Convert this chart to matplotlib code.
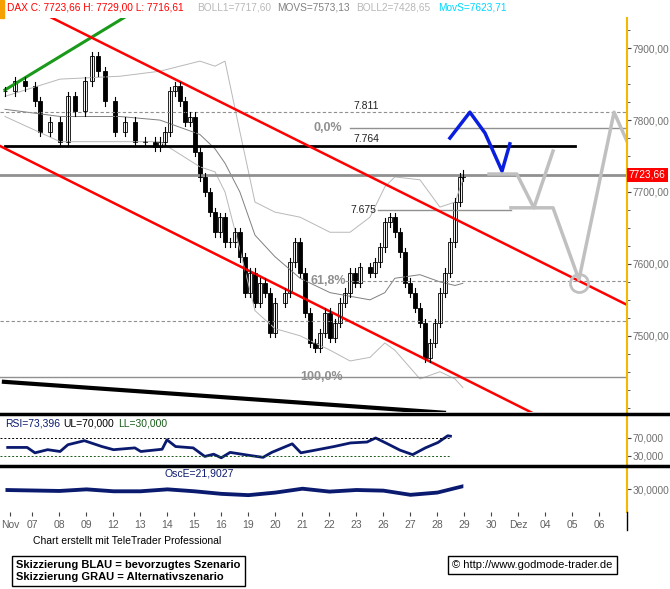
import numpy as np
import matplotlib
matplotlib.use('Agg')
import matplotlib.pyplot as plt
from matplotlib.patches import Rectangle

plt.rcParams['font.family'] = ['Liberation Sans', 'DejaVu Sans']

# ---- price path (day index, close) ----
days = [-1.0, -0.63, -0.26, 0.11, 0.30, 0.67, 1.04, 1.33, 1.59, 1.96, 2.22, 2.44, 2.70, 3.07, 3.44,
        3.81, 4.19, 4.56, 4.74, 4.93, 5.11, 5.30, 5.48, 5.67, 5.85, 6.04, 6.22, 6.41, 6.59, 6.78,
        6.96, 7.15, 7.33, 7.52, 7.70, 7.89, 8.07, 8.26, 8.44, 8.63, 8.81, 9.00, 9.37, 9.56, 9.74,
        9.93, 10.11, 10.30, 10.48, 10.67, 10.85, 11.04, 11.22, 11.41, 11.59, 11.78, 11.96, 12.15,
        12.52, 12.70, 12.89, 13.07, 13.26, 13.44, 13.63, 13.81, 14.00, 14.19, 14.37, 14.56, 14.74,
        14.93, 15.11, 15.30, 15.48, 15.67, 15.85, 15.96]
closes = [7840, 7854, 7847, 7826, 7784, 7798, 7770, 7833, 7812, 7854, 7889, 7868, 7826, 7784, 7798,
          7770, 7770, 7763, 7770, 7784, 7840, 7847, 7826, 7798, 7805, 7756, 7721, 7700, 7672, 7644,
          7665, 7630, 7630, 7644, 7609, 7560, 7588, 7546, 7574, 7560, 7504, 7546, 7560, 7602, 7630,
          7588, 7532, 7490, 7483, 7504, 7532, 7497, 7518, 7546, 7560, 7588, 7574, 7595, 7588, 7602,
          7623, 7658, 7665, 7644, 7616, 7574, 7560, 7539, 7518, 7469, 7490, 7518, 7560, 7588, 7630,
          7686, 7721, 7724]

band_days = [-1.0, 1.04, 3.26, 4.74, 6.22, 6.78, 7.15, 7.70, 8.26, 9.0, 9.93, 11.04, 11.78, 12.52,
             13.07, 13.44, 14.37, 15.11, 15.67, 15.96]
boll_upper = [7833, 7857, 7861, 7868, 7882, 7875, 7882, 7784, 7686, 7672, 7665, 7644, 7644, 7665,
              7707, 7721, 7717, 7679, 7686, 7717]
boll_lower = [7805, 7770, 7770, 7770, 7735, 7728, 7700, 7620, 7535, 7510, 7500, 7480, 7465, 7470,
              7490, 7480, 7440, 7450, 7440, 7428]
movs = [7815, 7805, 7805, 7800, 7780, 7760, 7740, 7700, 7640, 7610, 7580, 7560, 7555, 7550,
        7560, 7580, 7585, 7575, 7570, 7573]

rsi_days = [-0.9, -0.18, 0.11, 0.58, 1.04, 1.33, 1.94, 2.59, 3.02, 3.81, 4.03, 4.82, 5.0, 5.32,
            5.97, 6.4, 6.73, 7.01, 7.34, 8.09, 8.56, 8.88, 9.64, 9.96, 10.58, 11.19, 11.8, 12.41,
            12.73, 13.17, 13.63, 14.1, 14.57, 15.04, 15.4, 15.5]
rsi = [49, 49, 37, 44, 40, 55, 64, 51, 44, 48, 40, 45, 66, 51, 48, 29, 34, 26, 38, 31, 27, 38,
       57, 37, 44, 51, 59, 61, 70, 57, 43, 33, 48, 60, 75, 74]

osc_days = [-1.0, 1.0, 2.0, 3.0, 4.0, 5.0, 6.0, 7.0, 8.0, 9.0, 10.0, 11.0, 12.0, 13.0, 14.0, 15.0, 15.96]
osc = [30, 27, 32, 26, 26, 32, 26, 18, 14, 22, 34, 25, 30, 28, 15, 22, 42]

green_line = ([-1.0, 3.56], [7842, 7946])
red_upper = ([0.70, 22.04], [7943, 7543])
red_lower = ([-1.185, 18.52], [7764, 7393])
black_trend = ([-1.04, 15.26], [7436, 7393])
blue_path = ([15.48, 16.22, 16.78, 17.41, 17.70], [7775, 7811, 7782, 7729, 7767])
gray_path1 = ([16.93, 17.96, 18.59, 19.30], [7725, 7725, 7678, 7757])
gray_path2 = ([17.74, 19.30, 20.26, 21.56, 22.07], [7678, 7678, 7578, 7811, 7768])

date_pos = [-0.81] + list(range(22))
date_labels = ['Nov', '07', '08', '09', '12', '13', '14', '15', '16', '19', '20', '21', '22', '23',
               '26', '27', '28', '29', '30', 'Dez', '04', '05', '06']

XMIN, XMAX = -1.185, 22.04
W, H = 670, 589

fig = plt.figure(figsize=(6.7, 5.89), dpi=100)


def box(top, bottom):
    return [0, 1 - bottom / H, 627 / W, (bottom - top) / H]


ax = fig.add_axes(box(18, 412))
ax_rsi = fig.add_axes(box(415, 465))
ax_osc = fig.add_axes(box(467, 512))

for a in (ax, ax_rsi, ax_osc):
    a.set_xlim(XMIN, XMAX)
    for s in ('top', 'left', 'bottom'):
        a.spines[s].set_visible(False)
    a.spines['right'].set_color('#f5b800')
    a.spines['right'].set_linewidth(1.5)
    a.yaxis.tick_right()
    a.tick_params(axis='y', labelsize=7.3, labelcolor='#707070', length=3, color='#444444', pad=1)
    a.set_xticks([])

# ---- main price panel ----
ax.set_ylim(7394, 7942)
ax.set_yticks([7500, 7600, 7700, 7800, 7900])
ax.set_yticks(np.arange(7400, 7950, 25), minor=True)
ax.tick_params(axis='y', which='minor', length=2, color='#444444')
ax.set_yticklabels(['7500,00', '7600,00', '7700,00', '7800,00', '7900,00'])

ax.plot(band_days, boll_upper, color='#b8b8b8', lw=0.7)
ax.plot(band_days, boll_lower, color='#b8b8b8', lw=0.7)
ax.plot(band_days, movs, color='#808080', lw=0.7)

ax.axhline(7811, color='#909090', lw=0.8, ls=(0, (3, 2)))
ax.axhline(7521, color='#909090', lw=0.8, ls=(0, (3, 2)))
ax.plot([11.6, XMAX], [7576, 7576], color='#909090', lw=0.8, ls=(0, (3, 2)))
ax.plot([11.78, XMAX], [7789, 7789], color='#909090', lw=1)
ax.axhline(7443, color='#909090', lw=1)
ax.plot([12.8, 17.74], [7675, 7675], color='#909090', lw=1)
ax.axhline(7723.66, color='#909090', lw=2)
ax.plot([-1.0, 20.1], [7764, 7764], color='black', lw=2)

ax.plot(*green_line, color='#1a9a1a', lw=2.2)
ax.plot(*red_upper, color='red', lw=1.8)
ax.plot(*red_lower, color='red', lw=1.8)
ax.plot(*black_trend, color='black', lw=3)

prev = closes[0]
for d, c in zip(days, closes):
    lo, hi = min(prev, c), max(prev, c)
    ax.plot([d, d], [lo - 6, hi + 6], color='black', lw=0.8)
    ax.add_patch(Rectangle((d - 0.08, lo), 0.16, max(hi - lo, 1),
                           facecolor='black' if c < prev else 'white', edgecolor='black', lw=0.6))
    prev = c

ax.plot(*blue_path, color='#0a1ee0', lw=2.5)
ax.plot(*gray_path1, color='#c0c0c0', lw=2.5)
ax.plot(*gray_path2, color='#c0c0c0', lw=2.5)
ax.plot(20.26, 7574, 'o', ms=13, mfc='none', mec='#c0c0c0', mew=2)

ax.text(11.9, 7816, '7.811', fontsize=7.5, color='#222222')
ax.text(11.9, 7769, '7.764', fontsize=7.5, color='#222222')
ax.text(11.5, 7789, '0,0%', fontsize=9, color='#909090', fontweight='bold', ha='right', va='center')
ax.text(12.75, 7675, '7.675', fontsize=7.5, color='#222222', ha='right', va='center')
ax.text(10.3, 7576, '61,8%', fontsize=9, color='#909090', fontweight='bold', va='center')
ax.text(9.95, 7443, '100,0%', fontsize=9, color='#909090', fontweight='bold', va='center')
ax.text(1.003, 7723.66, '7723,66', transform=ax.get_yaxis_transform(), fontsize=7.3, color='white',
        va='center', bbox=dict(facecolor='red', edgecolor='none', pad=1.5))

# ---- RSI panel ----
ax_rsi.set_ylim(10, 121)
ax_rsi.set_yticks([30, 70])
ax_rsi.set_yticklabels(['30,000', '70,000'])
ax_rsi.plot(rsi_days, rsi, color='#0a1a6e', lw=2)
ax_rsi.plot([XMIN, 15.5], [70, 70], color='black', lw=0.7, ls=(0, (2, 2)))
ax_rsi.plot([XMIN, 15.5], [30, 30], color='#1a5a1a', lw=0.7, ls=(0, (2, 2)))
ax_rsi.text(-1.0, 114, 'RSI=73,396', color='#0a1a6e', fontsize=7.5, va='top')
ax_rsi.text(1.15, 114, 'UL=70,000', color='black', fontsize=7.5, va='top')
ax_rsi.text(3.2, 114, 'LL=30,000', color='#1a5a1a', fontsize=7.5, va='top')

# ---- oscillator panel ----
ax_osc.set_ylim(-40, 100)
ax_osc.set_yticks([30])
ax_osc.set_yticklabels(['30,0000'])
osc_arr = np.array(osc)
ax_osc.fill_between(osc_days, osc_arr - 6, osc_arr + 6, color='#0a1a6e', lw=0)
ax_osc.text(4.9, 95, 'OscE=21,9027', color='#0a1a6e', fontsize=7.5, va='top')
ax_osc.set_xticks(date_pos)
ax_osc.set_xticklabels(date_labels, fontsize=7.5, color='#606060')
ax_osc.tick_params(axis='x', length=3, color='#444444', pad=3)

# panel separators
for yy in (414, 466):
    fig.add_artist(plt.Line2D([0, 1], [1 - yy / H] * 2, color='black', lw=2.5))
fig.add_artist(plt.Line2D([627 / W] * 2, [1 - 530 / H, 1 - 512 / H], color='black', lw=1))

# ---- header ----
fig.add_artist(Rectangle((0, 1 - 18 / H), 4 / W, 18 / H, color='#f5a000'))
hy = 1 - 8 / H
fig.text(7 / W, hy, 'DAX C: 7723,66 H: 7729,00 L: 7716,61', color='red', fontsize=7.3, va='center')
fig.text(197 / W, hy, 'BOLL1=7717,60', color='#b8b8b8', fontsize=7.3, va='center')
fig.text(277 / W, hy, 'MOVS=7573,13', color='#808080', fontsize=7.3, va='center')
fig.text(356 / W, hy, 'BOLL2=7428,65', color='#b8b8b8', fontsize=7.3, va='center')
fig.text(438 / W, hy, 'MovS=7623,71', color='#00d8ff', fontsize=7.3, va='center')

# ---- footer ----
fig.text(33 / W, 1 - 541 / H, 'Chart erstellt mit TeleTrader Professional', fontsize=7.5, va='center')
fig.text(16 / W, 1 - 571 / H, 'Skizzierung BLAU = bevorzugtes Szenario\nSkizzierung GRAU = Alternativszenario',
         fontsize=8, fontweight='bold', va='center', linespacing=1.25,
         bbox=dict(facecolor='white', edgecolor='black', pad=3))
fig.text(452 / W, 1 - 565 / H, '© http://www.godmode-trader.de', fontsize=8, va='center',
         bbox=dict(facecolor='white', edgecolor='black', pad=3))

fig.savefig('out.png', dpi=100)
